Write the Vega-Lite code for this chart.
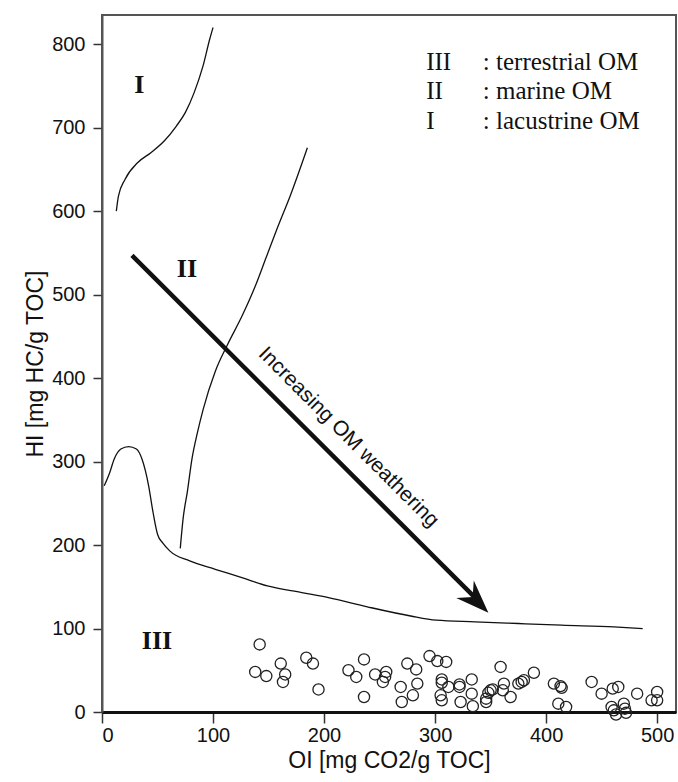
{
  "$schema": "https://vega.github.io/schema/vega-lite/v6.json",
  "width": 574,
  "height": 697,
  "autosize": {"type": "none"},
  "padding": {"left": 102, "top": 15, "right": 2, "bottom": 70},
  "background": "white",
  "config": {
    "view": {"stroke": "#555", "strokeWidth": 2},
    "axis": {"labelFont": "Liberation Sans", "titleFont": "Liberation Sans", "labelColor": "#111", "titleColor": "#111", "titleFontWeight": "normal", "grid": false, "tickColor": "#333", "tickWidth": 1.5},
    "axisX": {"domainColor": "#111", "domainWidth": 3, "tickSize": 11, "labelFontSize": 20, "titleFontSize": 23, "labelPadding": 2, "titlePadding": 4},
    "axisY": {"domainColor": "#555", "domainWidth": 2, "tickSize": 9, "labelFontSize": 20, "titleFontSize": 23, "labelPadding": 8, "titlePadding": 4}
  },
  "datasets": {
    "curves": [
      {"curve": "III", "i": 1, "x": 2, "y": 271},
      {"curve": "III", "i": 2, "x": 7, "y": 287},
      {"curve": "III", "i": 3, "x": 11, "y": 303},
      {"curve": "III", "i": 4, "x": 17, "y": 315},
      {"curve": "III", "i": 5, "x": 24, "y": 318},
      {"curve": "III", "i": 6, "x": 31, "y": 315},
      {"curve": "III", "i": 7, "x": 36, "y": 303},
      {"curve": "III", "i": 8, "x": 42, "y": 271},
      {"curve": "III", "i": 9, "x": 46, "y": 239},
      {"curve": "III", "i": 10, "x": 50, "y": 213},
      {"curve": "III", "i": 11, "x": 55, "y": 202},
      {"curve": "III", "i": 12, "x": 61, "y": 193},
      {"curve": "III", "i": 13, "x": 79, "y": 181},
      {"curve": "III", "i": 14, "x": 102, "y": 171},
      {"curve": "III", "i": 15, "x": 126, "y": 161},
      {"curve": "III", "i": 16, "x": 149, "y": 151},
      {"curve": "III", "i": 17, "x": 180, "y": 143},
      {"curve": "III", "i": 18, "x": 204, "y": 137},
      {"curve": "III", "i": 19, "x": 239, "y": 126},
      {"curve": "III", "i": 20, "x": 278, "y": 115},
      {"curve": "III", "i": 21, "x": 301, "y": 110},
      {"curve": "III", "i": 22, "x": 336, "y": 108},
      {"curve": "III", "i": 23, "x": 375, "y": 106},
      {"curve": "III", "i": 24, "x": 414, "y": 104},
      {"curve": "III", "i": 25, "x": 461, "y": 102},
      {"curve": "III", "i": 26, "x": 487, "y": 100},
      {"curve": "II", "i": 1, "x": 70.5, "y": 196},
      {"curve": "II", "i": 2, "x": 73, "y": 231},
      {"curve": "II", "i": 3, "x": 77, "y": 265},
      {"curve": "II", "i": 4, "x": 81, "y": 303},
      {"curve": "II", "i": 5, "x": 86, "y": 335},
      {"curve": "II", "i": 6, "x": 91, "y": 362},
      {"curve": "II", "i": 7, "x": 102, "y": 408},
      {"curve": "II", "i": 8, "x": 113, "y": 440},
      {"curve": "II", "i": 9, "x": 126, "y": 474},
      {"curve": "II", "i": 10, "x": 138, "y": 510},
      {"curve": "II", "i": 11, "x": 148, "y": 545},
      {"curve": "II", "i": 12, "x": 158, "y": 580},
      {"curve": "II", "i": 13, "x": 170, "y": 620},
      {"curve": "II", "i": 14, "x": 185, "y": 676},
      {"curve": "I", "i": 1, "x": 12.9, "y": 600},
      {"curve": "I", "i": 2, "x": 14.8, "y": 618},
      {"curve": "I", "i": 3, "x": 20.7, "y": 638},
      {"curve": "I", "i": 4, "x": 32, "y": 658},
      {"curve": "I", "i": 5, "x": 44, "y": 670},
      {"curve": "I", "i": 6, "x": 56, "y": 684},
      {"curve": "I", "i": 7, "x": 67, "y": 702},
      {"curve": "I", "i": 8, "x": 75, "y": 718},
      {"curve": "I", "i": 9, "x": 83, "y": 742},
      {"curve": "I", "i": 10, "x": 91, "y": 774},
      {"curve": "I", "i": 11, "x": 97, "y": 806},
      {"curve": "I", "i": 12, "x": 100, "y": 820}
    ],
    "arrow": [
      {"i": 1, "x": 27, "y": 547},
      {"i": 2, "x": 336, "y": 137}
    ],
    "arrowhead": [
      {"x": 348, "y": 119}
    ],
    "samples": [
      {"x": 142, "y": 81}, {"x": 138, "y": 48}, {"x": 148, "y": 43}, {"x": 161, "y": 58}, {"x": 165, "y": 45},
      {"x": 163, "y": 36}, {"x": 184, "y": 65}, {"x": 190, "y": 58}, {"x": 195, "y": 27}, {"x": 222, "y": 50},
      {"x": 229, "y": 42}, {"x": 236, "y": 63}, {"x": 236, "y": 18}, {"x": 246, "y": 45}, {"x": 256, "y": 48},
      {"x": 255, "y": 42}, {"x": 253, "y": 36}, {"x": 269, "y": 30}, {"x": 270, "y": 12}, {"x": 275, "y": 58},
      {"x": 283, "y": 51}, {"x": 284, "y": 34}, {"x": 280, "y": 20}, {"x": 295, "y": 67}, {"x": 302, "y": 61},
      {"x": 310, "y": 60}, {"x": 306, "y": 39}, {"x": 306, "y": 35}, {"x": 312, "y": 30}, {"x": 305, "y": 20},
      {"x": 306, "y": 14}, {"x": 322, "y": 33}, {"x": 322, "y": 30}, {"x": 323, "y": 12}, {"x": 333, "y": 39},
      {"x": 333, "y": 22}, {"x": 334, "y": 7}, {"x": 346, "y": 16}, {"x": 348, "y": 23}, {"x": 350, "y": 26},
      {"x": 352, "y": 27}, {"x": 346, "y": 12}, {"x": 359, "y": 54}, {"x": 362, "y": 34}, {"x": 361, "y": 26},
      {"x": 368, "y": 18}, {"x": 375, "y": 34}, {"x": 378, "y": 36}, {"x": 380, "y": 38}, {"x": 389, "y": 47},
      {"x": 407, "y": 34}, {"x": 413, "y": 31}, {"x": 414, "y": 29}, {"x": 411, "y": 10}, {"x": 418, "y": 6},
      {"x": 441, "y": 36}, {"x": 450, "y": 22}, {"x": 460, "y": 28}, {"x": 465, "y": 30}, {"x": 459, "y": 6},
      {"x": 461, "y": 2}, {"x": 463, "y": -3}, {"x": 470, "y": 10}, {"x": 471, "y": 4}, {"x": 472, "y": -1},
      {"x": 482, "y": 22}, {"x": 495, "y": 14}, {"x": 500, "y": 24}, {"x": 500, "y": 14}
    ],
    "types": [
      {"x": 33.5, "y": 741, "label": "I"},
      {"x": 76.5, "y": 521, "label": "II"},
      {"x": 49.5, "y": 75.5, "label": "III"}
    ],
    "legend": [
      {"x": 292, "x2": 343, "y": 769, "code": "III", "desc": ": terrestrial OM"},
      {"x": 292, "x2": 343, "y": 734, "code": "II", "desc": ": marine OM"},
      {"x": 292, "x2": 343, "y": 699, "code": "I", "desc": ": lacustrine OM"}
    ],
    "note": [
      {"x": 222, "y": 329, "text": "Increasing OM weathering"}
    ]
  },
  "layer": [
    {
      "data": {"name": "curves"},
      "mark": {"type": "line", "color": "#111", "strokeWidth": 1.3, "interpolate": "monotone"},
      "encoding": {
        "x": {"field": "x", "type": "quantitative", "scale": {"domain": [0, 517], "nice": false, "zero": false}, "axis": {"values": [0, 100, 200, 300, 400, 500], "title": "OI [mg CO2/g TOC]"}},
        "y": {"field": "y", "type": "quantitative", "scale": {"domain": [0, 835], "nice": false, "zero": false}, "axis": {"values": [0, 100, 200, 300, 400, 500, 600, 700, 800], "title": "HI [mg HC/g TOC]"}},
        "detail": {"field": "curve", "type": "nominal"},
        "order": {"field": "i", "type": "quantitative"}
      }
    },
    {
      "data": {"name": "arrow"},
      "mark": {"type": "line", "color": "#111", "strokeWidth": 4.5},
      "encoding": {
        "x": {"field": "x", "type": "quantitative", "title": "OI [mg CO2/g TOC]"},
        "y": {"field": "y", "type": "quantitative", "title": "HI [mg HC/g TOC]"},
        "order": {"field": "i", "type": "quantitative"}
      }
    },
    {
      "data": {"name": "arrowhead"},
      "mark": {"type": "point", "shape": "M 0 0 L -2 -0.75 L -1.35 0 L -2 0.75 Z", "angle": 45, "size": 1089, "filled": true, "color": "#111", "opacity": 1},
      "encoding": {
        "x": {"field": "x", "type": "quantitative", "title": "OI [mg CO2/g TOC]"},
        "y": {"field": "y", "type": "quantitative", "title": "HI [mg HC/g TOC]"}
      }
    },
    {
      "data": {"name": "samples"},
      "mark": {"type": "point", "shape": "circle", "filled": false, "size": 125, "stroke": "#222", "strokeWidth": 1.3, "opacity": 1},
      "encoding": {
        "x": {"field": "x", "type": "quantitative", "title": "OI [mg CO2/g TOC]"},
        "y": {"field": "y", "type": "quantitative", "title": "HI [mg HC/g TOC]"}
      }
    },
    {
      "data": {"name": "types"},
      "mark": {"type": "text", "font": "Liberation Serif", "fontWeight": "bold", "fontSize": 26, "align": "center", "baseline": "alphabetic", "color": "#111"},
      "encoding": {
        "x": {"field": "x", "type": "quantitative", "title": "OI [mg CO2/g TOC]"},
        "y": {"field": "y", "type": "quantitative", "title": "HI [mg HC/g TOC]"},
        "text": {"field": "label"}
      }
    },
    {
      "data": {"name": "legend"},
      "mark": {"type": "text", "font": "Liberation Serif", "fontSize": 25, "align": "left", "baseline": "alphabetic", "color": "#111"},
      "encoding": {
        "x": {"field": "x", "type": "quantitative", "title": "OI [mg CO2/g TOC]"},
        "y": {"field": "y", "type": "quantitative", "title": "HI [mg HC/g TOC]"},
        "text": {"field": "code"}
      }
    },
    {
      "data": {"name": "legend"},
      "mark": {"type": "text", "font": "Liberation Serif", "fontSize": 25, "align": "left", "baseline": "alphabetic", "color": "#111"},
      "encoding": {
        "x": {"field": "x2", "type": "quantitative", "title": "OI [mg CO2/g TOC]"},
        "y": {"field": "y", "type": "quantitative", "title": "HI [mg HC/g TOC]"},
        "text": {"field": "desc"}
      }
    },
    {
      "data": {"name": "note"},
      "mark": {"type": "text", "font": "Liberation Sans", "fontSize": 21, "align": "center", "baseline": "middle", "angle": 45, "color": "#111"},
      "encoding": {
        "x": {"field": "x", "type": "quantitative", "title": "OI [mg CO2/g TOC]"},
        "y": {"field": "y", "type": "quantitative", "title": "HI [mg HC/g TOC]"},
        "text": {"field": "text"}
      }
    }
  ]
}
